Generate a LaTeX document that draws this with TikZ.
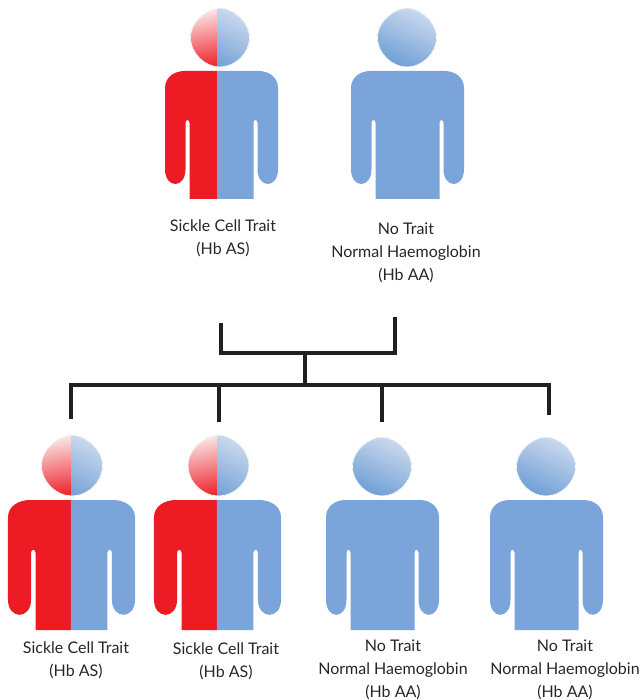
\documentclass[tikz,border=0pt]{standalone}
\usepackage{fontspec}
\setmainfont{Lato}
\definecolor{traitred}{HTML}{ED1C24}
\definecolor{normalblue}{HTML}{7BA5DA}
\definecolor{headblue}{HTML}{6F9ED5}
\definecolor{headmid}{HTML}{8FB3DF}
\definecolor{headlight}{HTML}{CBDAEE}
\definecolor{headpink}{HTML}{FBE6E6}
\definecolor{headrose}{HTML}{F0777C}
\definecolor{barblack}{HTML}{231F20}
\newcommand{\bodypath}{(-56.5,17) .. controls (-56.5,6) and (-47,0) .. (-37,0) -- (37,0) .. controls (47,0) and (56.5,6) .. (56.5,17) -- (56.5,98) .. controls (56.5,118) and (36,118) .. (36,98) -- (36,52) .. controls (36,48) and (32,48) .. (32,52) -- (32,128) -- (-32,128) -- (-32,52) .. controls (-32,48) and (-36,48) .. (-36,52) -- (-36,98) .. controls (-36,118) and (-56.5,118) .. (-56.5,98) -- cycle}
\newcommand{\headpath}[1]{(0,-#1) .. controls (#1*0.38,-#1) and (#1,#1*-0.58) .. (#1,0) .. controls (#1,#1*0.55) and (#1*0.5,#1) .. (0,#1) .. controls (#1*-0.5,#1) and (-#1,#1*0.55) .. (-#1,0) .. controls (-#1,#1*-0.58) and (#1*-0.38,-#1) .. (0,-#1) -- cycle}
\tikzset{
  bluefade/.style = {top color=headlight, middle color=headmid, bottom color=headblue, shading angle=-25},
  redfade/.style = {top color=headpink, middle color=headrose, bottom color=traitred, shading angle=10},
  pics/bluebody/.style = {code = {\fill[normalblue] \bodypath;}},
  pics/splitbody/.style = {code = {
    \begin{scope}
      \clip (-70,-5) rectangle (#1,135);
      \fill[traitred] \bodypath;
    \end{scope}
    \begin{scope}
      \clip (#1,-5) rectangle (70,135);
      \fill[normalblue] \bodypath;
    \end{scope}}},
  pics/bluehead/.style = {code = {
    \fill[bluefade] \headpath{#1};
    \draw[white, line width=0.7pt] \headpath{#1};}},
  pics/splithead/.style 2 args = {code = {
    \begin{scope}
      \clip (-40,-40) rectangle (#2,40);
      \fill[redfade] \headpath{#1};
    \end{scope}
    \begin{scope}
      \clip (#2,-40) rectangle (40,40);
      \fill[bluefade] \headpath{#1};
    \end{scope}
    \draw[white, line width=0.7pt] \headpath{#1};}}
}
\begin{document}
\begin{tikzpicture}[x=1pt, y=-1pt,
    caption/.style = {align=center, text=black!85, font=\fontsize{16}{23}\selectfont},
    bar/.style = {draw=barblack, line width=3.5pt}]
    \useasboundingbox (0,0) rectangle (643,700);
    % parents
    \pic at (221.5,71) {splitbody=-4.5};
    \pic at (220,37.5) {splithead={29.5}{-3}};
    \pic at (407.5,71) {bluebody};
    \pic at (407,37.5) {bluehead=29.5};
    \node[caption] (mother) at (223,238) {Sickle Cell Trait\\(Hb AS)};
    \node[caption] (father) at (406,253) {No Trait\\Normal Haemoglobin\\(Hb AA)};
    % children
    \pic[xscale=1.124, yscale=1.016] at (71.5,500) {splitbody=-0.5};
    \pic at (72,465.5) {splithead={30.5}{-1}};
    \pic[xscale=1.124, yscale=1.016] at (217.5,500) {splitbody=-0.5};
    \pic at (218.5,465.5) {splithead={30.5}{-1.5}};
    \pic[yscale=1.016] at (382.5,500) {bluebody};
    \pic at (382,466.5) {bluehead=29.5};
    \pic[yscale=1.016] at (546.5,500) {bluebody};
    \pic at (546,466.5) {bluehead=29.5};
    \node[caption] (child1) at (76,660) {Sickle Cell Trait\\(Hb AS)};
    \node[caption] (child2) at (226,661) {Sickle Cell Trait\\(Hb AS)};
    \node[caption] (child3) at (393,670) {No Trait\\Normal Haemoglobin\\(Hb AA)};
    \node[caption] (child4) at (565,670) {No Trait\\Normal Haemoglobin\\(Hb AA)};
    % family bars
    \coordinate (parent1) at (221,323);
    \coordinate (parent2) at (395,317);
    \coordinate (join) at (305,353);
    \coordinate (split) at (305,385);
    \coordinate (drop1) at (71,419);
    \coordinate (drop2) at (219,422);
    \coordinate (drop3) at (382,422);
    \coordinate (drop4) at (549,415);
    \draw[bar] (parent1) |- (join) -| (parent2);
    \draw[bar] (join) -- (split);
    \draw[bar] (drop1) |- (split) -| (drop4);
    \draw[bar] (split -| drop2) -- (drop2);
    \draw[bar] (split -| drop3) -- (drop3);
\end{tikzpicture}
\end{document}
